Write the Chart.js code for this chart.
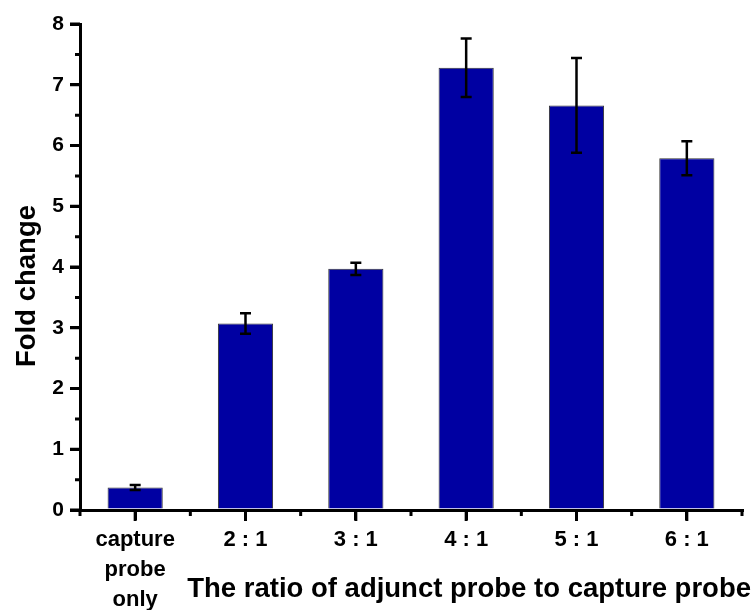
<!DOCTYPE html>
<html>
<head>
<meta charset="utf-8">
<script src="https://cdn.jsdelivr.net/npm/chart.js@4.4.0/dist/chart.umd.min.js"></script>
<style>
  html, body { margin: 0; padding: 0; background: #fff; }
  #wrap { width: 756px; height: 610px; }
</style>
</head>
<body>
<div id="wrap"><canvas id="barChart"></canvas></div>
<script>
// Fold change by adjunct:capture probe ratio
const categories = [['capture', 'probe', 'only'], '2 : 1', '3 : 1', '4 : 1', '5 : 1', '6 : 1'];
const foldChange = [0.37, 3.07, 3.97, 7.28, 6.66, 5.79];
const errorSize = [0.04, 0.17, 0.10, 0.48, 0.78, 0.28];
const yMin = 0, yMax = 8, yStep = 1;
const xTitle = 'The ratio of adjunct probe to capture probe';
const yTitle = 'Fold change';

const FONT = '"Liberation Sans", Arial, sans-serif';

// error bars, drawn through the y scale
const errorBars = {
  id: 'errorBars',
  afterDatasetsDraw(chart) {
    const ctx = chart.ctx;
    const y = chart.scales.y;
    const meta = chart.getDatasetMeta(0);
    ctx.save();
    ctx.strokeStyle = '#000';
    ctx.lineWidth = 2.5;
    meta.data.forEach((bar, i) => {
      const top = y.getPixelForValue(foldChange[i] + errorSize[i]);
      const bot = y.getPixelForValue(foldChange[i] - errorSize[i]);
      ctx.beginPath();
      ctx.moveTo(bar.x, top); ctx.lineTo(bar.x, bot);
      ctx.moveTo(bar.x - 5.5, top); ctx.lineTo(bar.x + 5.5, top);
      ctx.moveTo(bar.x - 5.5, bot); ctx.lineTo(bar.x + 5.5, bot);
      ctx.stroke();
    });
    ctx.restore();
  }
};

// tick marks (major + minor) and axis titles
const extras = {
  id: 'extras',
  afterDraw(chart) {
    const ctx = chart.ctx;
    const area = chart.chartArea;
    const x = chart.scales.x;
    const y = chart.scales.y;
    ctx.save();
    ctx.strokeStyle = '#000';
    ctx.lineWidth = 3;
    ctx.beginPath();
    for (let v = yMin; v <= yMax; v += yStep / 2) {
      const py = y.getPixelForValue(v);
      const len = (v % yStep === 0) ? 10 : 5;
      ctx.moveTo(area.left - len, py); ctx.lineTo(area.left, py);
    }
    for (let i = 0; i < categories.length; i++) {
      const px = x.getPixelForValue(i);
      ctx.moveTo(px, area.bottom); ctx.lineTo(px, area.bottom + 11);
    }
    for (let i = 0; i <= categories.length; i++) {
      const px = x.getPixelForValue(i - 0.5);
      ctx.moveTo(px, area.bottom); ctx.lineTo(px, area.bottom + 6);
    }
    ctx.stroke();

    ctx.fillStyle = '#000';
    ctx.font = 'bold 27.5px ' + FONT;
    ctx.textBaseline = 'middle';
    ctx.textAlign = 'right';
    ctx.fillText(xTitle, area.right + 9, 589);

    ctx.translate(27, 286);
    ctx.rotate(-Math.PI / 2);
    ctx.textAlign = 'center';
    ctx.fillText(yTitle, 0, 0);
    ctx.restore();
  }
};

const barChartCtx = document.getElementById('barChart').getContext('2d');
const barChart = new Chart(barChartCtx, {
  type: 'bar',
  data: {
    labels: categories,
    datasets: [{
      label: yTitle,
      data: foldChange,
      backgroundColor: '#0000a2',
      borderColor: '#333',
      borderWidth: 1,
      barPercentage: 0.5,
      categoryPercentage: 1.0
    }]
  },
  options: {
    responsive: true,
    maintainAspectRatio: false,
    animation: false,
    layout: { padding: { top: 24, right: 14, left: 0, bottom: 0 } },
    plugins: {
      legend: { display: false },
      tooltip: { enabled: false }
    },
    scales: {
      x: {
        offset: true,
        grid: { offset: false, drawOnChartArea: false, tickLength: 10, lineWidth: 3, color: '#000' },
        border: { display: true, width: 3, color: '#000' },
        ticks: {
          color: '#000',
          padding: 5,
          maxRotation: 0,
          font: { family: FONT, weight: 'bold', size: 22, lineHeight: 1.36 }
        },
        afterFit(scale) { scale.height = 100; }
      },
      y: {
        min: yMin,
        max: yMax,
        grid: { drawOnChartArea: false, tickLength: 10, lineWidth: 3, color: '#000' },
        border: { display: true, width: 3, color: '#000' },
        ticks: {
          stepSize: yStep,
          color: '#000',
          padding: 6,
          font: { family: FONT, weight: 'bold', size: 21 }
        },
        afterFit(scale) { scale.width = 80; }
      }
    }
  },
  plugins: [errorBars, extras]
});
</script>
</body>
</html>
